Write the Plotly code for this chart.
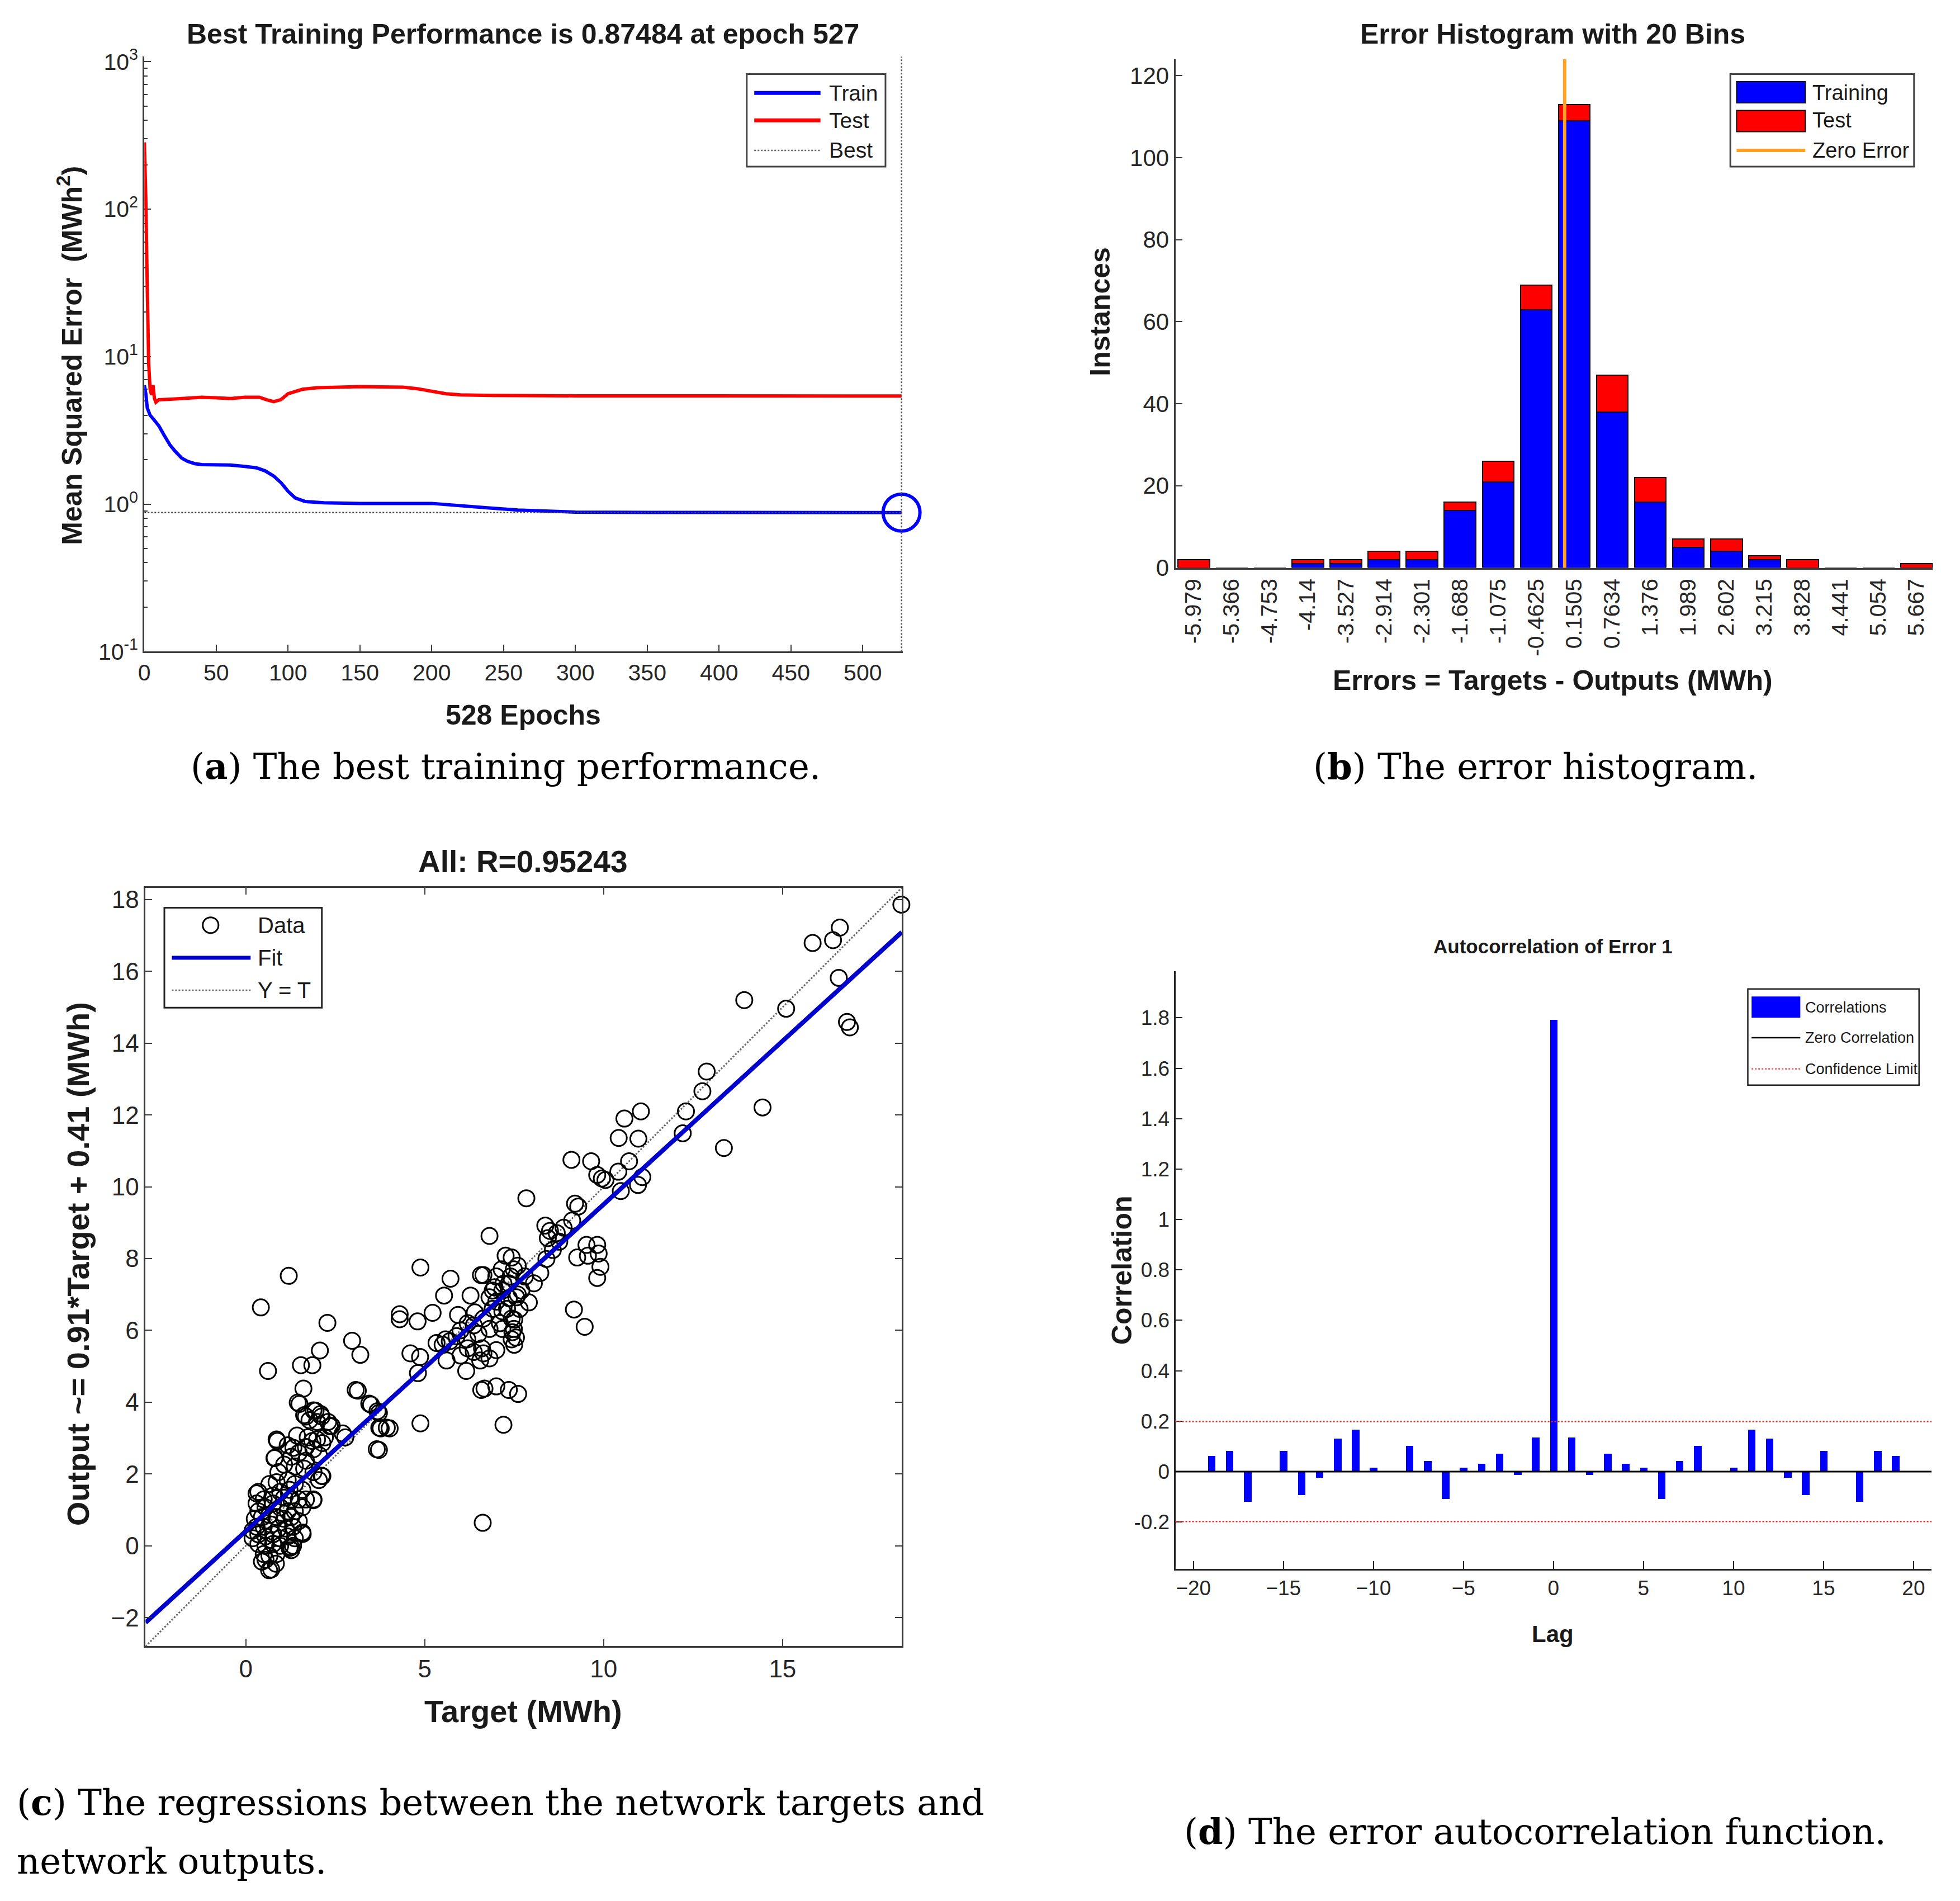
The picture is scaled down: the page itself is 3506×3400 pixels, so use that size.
import plotly.graph_objects as go

W, H = 3506, 3400

# ---------------- Panel (a): training performance ----------------
train_epochs = [0, 1, 2, 4, 6, 10, 14, 18, 22, 26, 30, 35, 40, 50, 60, 70, 78, 84, 90, 95,
                100, 105, 112, 125, 150, 200, 220, 240, 260, 280, 300, 350, 400, 450, 500, 527]
train_mse = [6.4, 5.6, 4.5, 4.0, 3.8, 3.4, 2.9, 2.5, 2.25, 2.05, 1.95, 1.88, 1.85, 1.84, 1.84,
             1.80, 1.76, 1.68, 1.55, 1.40, 1.22, 1.10, 1.04, 1.02, 1.01, 1.01, 0.98, 0.94, 0.91,
             0.89, 0.882, 0.878, 0.876, 0.875, 0.875, 0.87484]
test_epochs = [0, 1, 2, 3, 4, 5, 6, 7, 8, 10, 20, 30, 40, 50, 60, 70, 80, 85, 90, 95, 100, 110,
               120, 150, 180, 190, 200, 210, 220, 240, 300, 400, 527]
test_mse = [284, 120, 30, 9.0, 6.0, 5.5, 6.4, 5.2, 4.9, 5.1, 5.15, 5.2, 5.3, 5.25, 5.2, 5.3, 5.3,
            5.1, 4.95, 5.1, 5.6, 6.0, 6.15, 6.25, 6.2, 6.05, 5.8, 5.6, 5.5, 5.45, 5.42, 5.4, 5.4]
best_epoch = 527
best_perf = 0.87484
n_epochs = 528
perf_tickvals = [0.1, 1, 10, 100, 1000]
perf_ticktext = ["10<sup>-1</sup>", "10<sup>0</sup>", "10<sup>1</sup>", "10<sup>2</sup>", "10<sup>3</sup>"]
perf_minor_ticks = [0.2, 0.3, 0.4, 0.5, 0.6, 0.7, 0.8, 0.9, 2, 3, 4, 5, 6, 7, 8, 9,
                    20, 30, 40, 50, 60, 70, 80, 90, 200, 300, 400, 500, 600, 700, 800, 900]

# ---------------- Panel (b): error histogram ----------------
bin_centers = [-5.979, -5.366, -4.753, -4.14, -3.527, -2.914, -2.301, -1.688, -1.075, -0.4625,
               0.1505, 0.7634, 1.376, 1.989, 2.602, 3.215, 3.828, 4.441, 5.054, 5.667]
bin_labels = ["-5.979", "-5.366", "-4.753", "-4.14", "-3.527", "-2.914", "-2.301", "-1.688",
              "-1.075", "-0.4625", "0.1505", "0.7634", "1.376", "1.989", "2.602", "3.215",
              "3.828", "4.441", "5.054", "5.667"]
train_counts = [0, 0, 0, 1, 1, 2, 2, 14, 21, 63, 109, 38, 16, 5, 4, 2, 0, 0, 0, 0]
test_counts = [2, 0, 0, 1, 1, 2, 2, 2, 5, 6, 4, 9, 6, 2, 3, 1, 2, 0, 0, 1]
zero_error = 0.0

# ---------------- Panel (c): regression ----------------
targets = [18.32, 15.84, 16.41, 16.6, 16.57, 16.8, 16.88, 13.93, 15.1, 14.44, 13.36, 12.88, 12.76,
           12.3, 12.21, 10.58, 11.04, 10.42, 10.97, 10.41, 10.71, 11.08, 10.96, 10.48, 9.95, 9.82,
           10.05, 9.65, 9.1, 7.84, 9.2, 9.29, 9.12, 8.37, 8.5, 8.69, 8.88, 8.76, 8.44, 8.58, 8.4,
           9.52, 9.82, 9.86, 9.56, 9.26, 9.91, 9.82, 9.17, 9.47, 6.81, 6.64,
           4.88, 5.72, 5.54, 4.3, 4.3, 4.8, 5.22, 5.93, 6.28, 6.57, 7.0, 7.26, 7.43, 7.49, 7.35,
           7.17, 6.9, 6.81, 7.56, 7.7, 7.91, 8.05, 8.23, 7.17, 7.43, 7.17, 7.43, 7.49, 6.81, 6.64,
           6.37, 6.19, 6.37, 6.64, 6.81, 7.0, 6.55, 6.16, 5.61, 5.33, 5.58, 5.89, 4.6, 4.87, 4.81,
           4.88, 6.58, 6.67, 7.0, 7.35, 7.61, 7.2, 6.62,
           7.0, 7.2, 7.4, 7.6, 7.3, 7.5, 7.1, 6.9, 7.6, 7.8, 7.45, 7.55, 7.5, 7.35, 7.15, 6.95, 7.65,
           5.5, 5.7, 6.0, 6.2, 6.4, 6.5, 6.2, 6.6, 6.0,
           3.72, 3.77, 4.02, 3.72, 3.5, 3.13, 2.97, 3.2, 2.28, 2.07, 1.86, 1.54, 1.2, 0.42, 0.62,
           1.61, 1.5, 1.68, 1.95, 2.12, 2.35, 2.21, 2.78, 0.88, 0.8, 1.33, 1.86, 2.04, 2.12, 1.89,
           1.59, 1.27, 0.65, 0.83, 0.3,
           1.45, 3.07, 3.45, 3.68, 3.73, 3.94, 3.66, 0.86, 0.81, 1.17, 1.63, 1.89, 2.09, 2.3, 2.4,
           1.99, 1.78, 1.43, 1.73, 1.99, 2.14, 2.71, 1.68, 1.89, 1.48, 1.27, 1.68, 0.91, 1.07,
           1.37, 1.63, 1.89, 2.14, 2.04, 1.17, 0.86, 0.66, 0.35, 1.37, 1.58, 1.22, 0.96, 1.89,
           1.68, 1.48, 1.27, 1.07, 0.76, 0.5, 0.3, 0.35, 0.55, 0.76, 0.96, 1.17, 1.37, 1.58, 0.25,
           0.45, 0.66, 0.86, 1.07, 1.27, 1.48, 0.3, 0.5, 0.71, 0.91, 1.12, 1.32, 1.58, 0.35, 0.55,
           0.76, 0.96, 1.17, 1.37, 0.35, 0.55, 0.76, 0.96, 1.22, 1.32, 1.27, 0.5, 0.66, 0.86, 0.55,
           0.71, 0.84, 0.45, 0.19, 0.19]
outputs = [17.86, 16.79, 16.87, 17.22, 15.82, 14.59, 14.44, 15.2, 14.96, 12.21, 11.08, 13.21, 12.66,
           12.1, 11.49, 11.9, 12.1, 11.36, 11.34, 10.42, 10.71, 10.27, 10.05, 9.88, 10.23, 10.33,
           10.19, 10.71, 10.75, 9.68, 9.53, 9.45, 9.06, 8.92, 8.77, 8.71, 8.86, 8.47, 8.57, 8.24,
           7.99, 8.38, 8.38, 8.14, 8.08, 8.03, 7.77, 7.46, 6.58, 6.1, 8.63, 7.54,
           7.75, 7.44, 6.97, 6.45, 6.31, 6.25, 6.49, 6.43, 6.97, 7.54, 7.5, 8.08, 8.03, 7.7, 7.31,
           7.11, 7.11, 6.92, 6.92, 7.11, 6.78, 7.31, 7.6, 6.53, 6.33, 6.04, 5.75, 6.04, 6.04, 6.33,
           6.14, 5.75, 5.4, 5.36, 5.22, 5.45, 5.16, 4.87, 5.16, 5.65, 5.75, 5.84, 5.36, 5.26, 4.81,
           3.41, 4.34, 4.38, 4.44, 4.34, 4.23, 3.37, 0.64,
           6.8, 7.3, 7.5, 7.0, 6.6, 6.3, 6.2, 6.6, 7.8, 7.5, 5.95, 5.8, 5.6, 6.9, 7.7, 7.2, 6.6,
           5.6, 5.7, 6.0, 6.2, 6.5, 5.9, 5.5, 5.5, 5.3,
           2.67, 3.27, 3.27, 3.7, 3.93, 4.32, 5.71, 5.32, 6.21, 5.44, 5.03, 5.03, 7.52, 6.64, 4.87,
           4.38, 3.95, 3.6, 3.76, 3.6, 3.33, 3.02, 3.02, 2.92, 2.44, 2.73, 2.92, 2.53, 1.95, 1.27,
           0.33, -0.04, -0.68, -2.82, 1.46,
           3.99, 4.34, 3.96, 3.75, 3.29, 3.29, 2.69, 2.96, 2.45, 2.8, 3.64, 3.77, 3.67, 3.45, 3.34,
           3.45, 3.5, 3.07, 3.02, 2.96, 2.86, 3.13, 2.75, 2.69, 2.59, 2.48, 2.37, 2.05, 2.26,
           2.21, 2.15, 2.05, 1.94, 1.83, 1.83, 1.77, 1.72, 1.5, 1.72, 1.56, 1.56, 1.5, 1.29,
           1.29, 1.29, 1.29, 1.34, 1.4, 1.29, 1.18, 0.96, 1.07, 1.18, 1.07, 0.96, 0.96, 1.07, 0.75,
           0.8, 0.86, 0.8, 0.75, 0.8, 0.69, 0.53, 0.53, 0.59, 0.48, 0.48, 0.53, 0.37, 0.32, 0.26,
           0.32, 0.21, 0.26, 0.21, 0.05, 0.0, 0.05, 0.0, -0.06, 0.0, -0.12, -0.23, -0.28, -0.23,
           -0.39, -0.66, -0.5, -0.44, 0.21, 0.42]
fit_slope = 0.91
fit_intercept = 0.41
reg_range = [-2.8, 18.33]

# ---------------- Panel (d): autocorrelation ----------------
lags = list(range(-20, 21))
corr_values = [0.0, 0.06, 0.08, -0.12, 0.0, 0.08, -0.095, -0.025, 0.13, 0.165, 0.015, 0.0, 0.10,
               0.04, -0.11, 0.015, 0.03, 0.07, -0.015, 0.135, 1.79, 0.135, -0.015, 0.07, 0.03,
               0.015, -0.11, 0.04, 0.10, 0.0, 0.015, 0.165, 0.13, -0.025, -0.095, 0.08, 0.0,
               -0.12, 0.08, 0.06, 0.0]
conf_limit = 0.198


# layout helpers: positions measured on the reference picture
def PX(d):
    return 2.2426 * d - 17.9


def PY(d):
    return 2.2645 * d - 29.9


def X(d):
    return PX(d) / W


def Y(d):
    return 1 - PY(d) / H


SANS = "Liberation Sans, Arial, Helvetica, sans-serif"
NARROW = "Liberation Sans Narrow, Arial Narrow, Liberation Sans, sans-serif"
SERIF = "DejaVu Serif, Liberation Serif, serif"
AX = "#3a3a3a"

fig = go.Figure()

# (a)
fig.add_trace(go.Scatter(x=train_epochs, y=train_mse, mode="lines", line=dict(color="#0000FF", width=6),
                         xaxis="x", yaxis="y", showlegend=False))
fig.add_trace(go.Scatter(x=test_epochs, y=test_mse, mode="lines", line=dict(color="#FF0000", width=6),
                         xaxis="x", yaxis="y", showlegend=False))
fig.add_trace(go.Scatter(x=[0, best_epoch], y=[best_perf, best_perf], mode="lines",
                         line=dict(color="#444444", width=2.5, dash="dot"),
                         xaxis="x", yaxis="y", showlegend=False))
fig.add_trace(go.Scatter(x=[best_epoch], y=[best_perf], mode="markers", cliponaxis=False,
                         marker=dict(symbol="circle-open", size=66, color="#0000FF", line=dict(width=6)),
                         xaxis="x", yaxis="y", showlegend=False))

# (b)
fig.add_trace(go.Bar(x=bin_centers, y=train_counts, width=0.51,
                     marker=dict(color="#0000FF", line=dict(color="#111111", width=2)),
                     xaxis="x2", yaxis="y2", showlegend=False))
fig.add_trace(go.Bar(x=bin_centers, y=test_counts, width=0.51,
                     marker=dict(color="#FF0000", line=dict(color="#111111", width=2)),
                     xaxis="x2", yaxis="y2", showlegend=False))

# (c)
fig.add_trace(go.Scatter(x=reg_range, y=reg_range, mode="lines", line=dict(color="#666666", width=3, dash="dot"),
                         xaxis="x3", yaxis="y3", showlegend=False))
fig.add_trace(go.Scatter(x=targets, y=outputs, mode="markers", cliponaxis=False,
                         marker=dict(symbol="circle-open", size=29, color="#000000", line=dict(width=3)),
                         xaxis="x3", yaxis="y3", showlegend=False))
fig.add_trace(go.Scatter(x=reg_range, y=[fit_slope * v + fit_intercept for v in reg_range], mode="lines",
                         line=dict(color="#0000CC", width=8), xaxis="x3", yaxis="y3", showlegend=False))

# (d)
fig.add_trace(go.Bar(x=lags, y=corr_values, width=0.42, marker=dict(color="#0000FF", line=dict(width=0)),
                     xaxis="x4", yaxis="y4", showlegend=False))

tickfont = dict(family=SANS, size=41, color="#262626")
narrowtick = dict(family=NARROW, size=37, color="#262626")

layout = dict(
    width=W, height=H, margin=dict(l=0, r=0, t=0, b=0),
    paper_bgcolor="white", plot_bgcolor="white", barmode="stack", bargap=0,
    xaxis=dict(domain=[X(115), X(722)], anchor="y", range=[0, n_epochs], tickvals=list(range(0, 501, 50)),
               ticks="inside", ticklen=12, tickwidth=2, tickcolor=AX, showline=True, linecolor=AX, linewidth=3,
               showgrid=False, zeroline=False, tickfont=tickfont, layer="below traces"),
    yaxis=dict(domain=[Y(522), Y(46)], anchor="x", type="log", range=[-1, 3.034], tickvals=perf_tickvals,
               ticktext=perf_ticktext, ticks="inside", ticklen=12, tickwidth=2, tickcolor=AX, showline=True,
               linecolor=AX, linewidth=3, showgrid=False, zeroline=False, tickfont=tickfont,
               layer="below traces",
               minor=dict(tickmode="array", tickvals=perf_minor_ticks, ticks="inside", ticklen=6,
                          tickcolor=AX, tickwidth=1.5, showgrid=False)),
    xaxis2=dict(domain=[X(940), X(1546)], anchor="y2", range=[-6.27, 5.93], tickvals=bin_centers,
                ticktext=bin_labels, tickangle=-90, ticks="", showline=True, linecolor=AX, linewidth=3,
                showgrid=False, zeroline=False, tickfont=tickfont),
    yaxis2=dict(domain=[Y(455), Y(48)], anchor="x2", range=[0, 124], tickvals=list(range(0, 121, 20)),
                ticks="inside", ticklen=12, tickwidth=2, tickcolor=AX, showline=True, linecolor=AX, linewidth=3,
                showgrid=False, zeroline=False, tickfont=dict(family=SANS, size=42, color="#262626")),
    xaxis3=dict(domain=[X(116), X(721)], anchor="y3", range=reg_range, tickvals=[0, 5, 10, 15],
                ticks="inside", ticklen=12, tickwidth=2, tickcolor=AX, showline=True, mirror="ticks",
                linecolor=AX, linewidth=3, showgrid=False, zeroline=False,
                tickfont=dict(family=SANS, size=44, color="#262626")),
    yaxis3=dict(domain=[Y(1318), Y(711)], anchor="x3", range=reg_range, tickvals=list(range(-2, 19, 2)),
                ticks="inside", ticklen=12, tickwidth=2, tickcolor=AX, showline=True, mirror="ticks",
                linecolor=AX, linewidth=3, showgrid=False, zeroline=False,
                tickfont=dict(family=SANS, size=44, color="#262626")),
    xaxis4=dict(domain=[X(940), X(1545)], anchor="y4", range=[-21, 21], tickvals=list(range(-20, 21, 5)),
                ticks="inside", ticklen=14, tickwidth=2, tickcolor="#222222", showline=True, linecolor="#222222",
                linewidth=3, showgrid=False, zeroline=False, tickfont=narrowtick),
    yaxis4=dict(domain=[Y(1256), Y(778)], anchor="x4", range=[-0.386, 1.984],
                tickvals=[-0.2, 0, 0.2, 0.4, 0.6, 0.8, 1, 1.2, 1.4, 1.6, 1.8],
                ticktext=["-0.2", "0", "0.2", "0.4", "0.6", "0.8", "1", "1.2", "1.4", "1.6", "1.8"],
                ticks="inside", ticklen=12, tickwidth=2, tickcolor="#222222", showline=True, linecolor="#222222",
                linewidth=3, showgrid=False, zeroline=False, tickfont=narrowtick),
)
fig.update_layout(**layout)

shapes = []
# (a) vertical best epoch line
shapes.append(dict(type="line", xref="x", yref="y domain", x0=best_epoch, x1=best_epoch, y0=0, y1=1,
                   line=dict(color="#555555", width=2.5, dash="dot")))
# (b) zero error line
shapes.append(dict(type="line", xref="x2", yref="y2 domain", x0=zero_error, x1=zero_error, y0=0, y1=1,
                   line=dict(color="#FFA126", width=6)))
# (d) zero correlation & confidence limits
shapes.append(dict(type="line", xref="x4 domain", yref="y4", x0=0, x1=1, y0=0, y1=0,
                   line=dict(color="#000000", width=3)))
for cl in (conf_limit, -conf_limit):
    shapes.append(dict(type="line", xref="x4 domain", yref="y4", x0=0, x1=1, y0=cl, y1=cl,
                       line=dict(color="#E03030", width=2.5, dash="dot")))


def pbox(x0, y0, x1, y1, **kw):
    d = dict(type="rect", xref="paper", yref="paper", x0=X(x0), x1=X(x1), y0=Y(y1), y1=Y(y0))
    d.update(kw)
    return d


def pline(x0, x1, y, color, width, dash="solid"):
    return dict(type="line", xref="paper", yref="paper", x0=X(x0), x1=X(x1), y0=Y(y), y1=Y(y),
                line=dict(color=color, width=width, dash=dash))


# Legend (a)
shapes.append(pbox(597, 60, 708, 134, line=dict(color="#444444", width=3), fillcolor="white"))
shapes.append(pline(603, 656, 75, "#0000FF", 7))
shapes.append(pline(603, 656, 97, "#FF0000", 7))
shapes.append(pline(603, 656, 121, "#666666", 2.5, "dot"))
# Legend (b)
shapes.append(pbox(1384, 60, 1531, 134, line=dict(color="#444444", width=3), fillcolor="white"))
shapes.append(pbox(1389, 66, 1444, 83, line=dict(color="#111111", width=2), fillcolor="#0000FF"))
shapes.append(pbox(1389, 89, 1444, 106, line=dict(color="#111111", width=2), fillcolor="#FF0000"))
shapes.append(pline(1389, 1444, 121, "#FFA126", 6))
# Legend (c)
shapes.append(pbox(131, 727, 257, 807, line=dict(color="#222222", width=3), fillcolor="white"))
shapes.append(dict(type="circle", xref="paper", yref="paper", x0=X(161.7), x1=X(174.3), y0=Y(747.3),
                   y1=Y(734.7), line=dict(color="black", width=3)))
shapes.append(pline(137, 200, 767, "#0000CC", 7))
shapes.append(pline(137, 200, 793, "#666666", 2.5, "dot"))
# Legend (d)
shapes.append(pbox(1398, 792, 1535, 869, line=dict(color="#222222", width=2.5), fillcolor="white"))
shapes.append(pbox(1401, 798, 1440, 815, line=dict(width=0), fillcolor="#0000FF"))
shapes.append(pline(1401, 1440, 831, "#000000", 2.5))
shapes.append(pline(1401, 1440, 856, "#E03030", 2, "dot"))

fig.update_layout(shapes=shapes)

ann = []


def txt(dx, dy, text, size, family=SANS, bold=False, xanchor="center", yanchor="middle", angle=0,
        color="#1a1a1a"):
    t = "<b>%s</b>" % text if bold else text
    ann.append(dict(x=X(dx), y=Y(dy), xref="paper", yref="paper", text=t, showarrow=False,
                    xanchor=xanchor, yanchor=yanchor, textangle=angle,
                    font=dict(family=family, size=size, color=color)))


# Titles
txt(418, 28, "Best Training Performance is 0.87484 at epoch 527", 50, bold=True)
txt(1242, 28, "Error Histogram with 20 Bins", 50, bold=True)
txt(418, 690, "All: R=0.95243", 55, bold=True)
txt(1242, 758, "Autocorrelation of Error 1", 35, family=NARROW, bold=True)
# Axis titles
txt(418, 573, "528 Epochs", 50, bold=True)
txt(55, 285, "Mean Squared Error  (MWh<sup>2</sup>)", 50, bold=True, angle=-90)
txt(1242, 545, "Errors = Targets - Outputs (MWh)", 50, bold=True)
txt(880, 250, "Instances", 50, bold=True, angle=-90)
txt(418, 1370, "Target (MWh)", 56, bold=True)
txt(62, 1012, "Output ~= 0.91*Target + 0.41 (MWh)", 56, bold=True, angle=-90)
txt(1242, 1308, "Lag", 42, family=NARROW, bold=True)
txt(897, 1017, "Correlation", 50, bold=True, angle=-90)
# Legend texts
txt(662, 75, "Train", 39, xanchor="left")
txt(662, 97, "Test", 39, xanchor="left")
txt(662, 121, "Best", 39, xanchor="left")
txt(1449, 75, "Training", 38, xanchor="left")
txt(1449, 97, "Test", 38, xanchor="left")
txt(1449, 121, "Zero Error", 38, xanchor="left")
txt(205, 741, "Data", 40, xanchor="left")
txt(205, 767, "Fit", 40, xanchor="left")
txt(205, 793, "Y = T", 40, xanchor="left")
txt(1443, 807, "Correlations", 27, family=NARROW, xanchor="left")
txt(1443, 831, "Zero Correlation", 27, family=NARROW, xanchor="left")
txt(1443, 856, "Confidence Limit", 27, family=NARROW, xanchor="left")
# Captions
txt(404, 614, "(<b>a</b>) The best training performance.", 64, family=SERIF, color="black")
txt(1228, 614, "(<b>b</b>) The error histogram.", 64, family=SERIF, color="black")
txt(12, 1443, "(<b>c</b>) The regressions between the network targets and", 64, family=SERIF,
    xanchor="left", color="black")
txt(12, 1490, "network outputs.", 64, family=SERIF, xanchor="left", color="black")
txt(1228, 1466, "(<b>d</b>) The error autocorrelation function.", 64, family=SERIF, color="black")

fig.update_layout(annotations=ann)

fig.write_html("out.html")
